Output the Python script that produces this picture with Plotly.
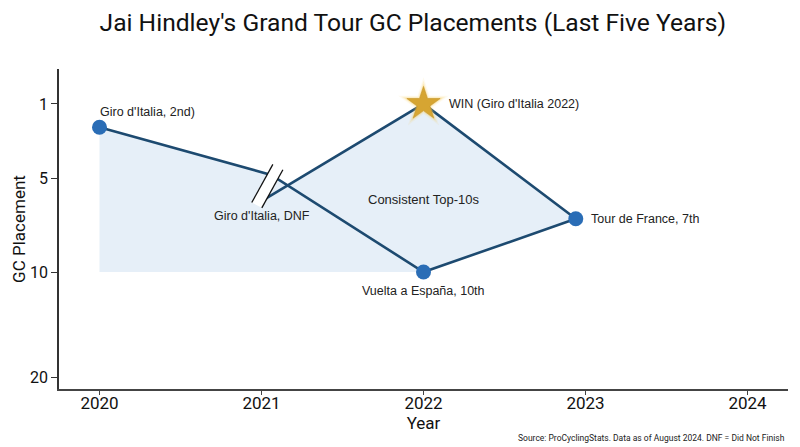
import numpy as np
import plotly.graph_objects as go

# ---------------- data ----------------
year_ticks = [2020, 2021, 2022, 2023, 2024]
year_labels = ["2020", "2021", "2022", "2023", "2024"]

# line A: Giro 2020 (2nd) -> 2021 break -> Vuelta 2022 (10th) -> Tour 2023 (7th)
years_a = [2020, 2021.06, 2022, 2022.94]
gc_a = [2.25, 4.8, 10, 7.15]
# line B: Giro 2021 (DNF) -> Giro 2022 (WIN) -> Tour 2023 (7th)
years_b = [2021, 2022, 2022.94]
gc_b = [6.2, 1, 7.15]

top10_line = 10
gc_ticks = [1, 5, 10, 15.64]
gc_labels = ["1", "5", "10", "20"]

label_giro20 = "Giro d'Italia, 2nd)"
label_dnf = "Giro d'Italia, DNF"
label_win = "WIN (Giro d'Italia 2022)"
label_vuelta = "Vuelta a España, 10th"
label_tour = "Tour de France, 7th"
label_band = "Consistent Top-10s"

LINE = "#1d4a70"
DOT = "#2a6db6"
FILL = "#e6eff8"
GOLD = "#d6a532"
ANN_FONT = "Liberation Sans, Arial, sans-serif"
MAIN_FONT = "Roboto, Liberation Sans, sans-serif"

# intersection of line A (2021->2022) with line B (2021->2022)
ax0, ay0, ax1, ay1 = years_a[1], gc_a[1], years_a[2], gc_a[2]
bx0, by0, bx1, by1 = years_b[0], gc_b[0], years_b[1], gc_b[1]
# solve A(x) = B(x)
ma = (ay1 - ay0) / (ax1 - ax0)
mb = (by1 - by0) / (bx1 - bx0)
ix = (by0 - ay0 + ma * ax0 - mb * bx0) / (ma - mb)
iy = ay0 + ma * (ix - ax0)

poly_x = [years_a[0], years_a[1], ix, years_b[1], years_b[2], years_a[2], years_a[0], years_a[0]]
poly_y = [gc_a[0], gc_a[1], iy, gc_b[1], gc_b[2], top10_line, top10_line, gc_a[0]]

fig = go.Figure()

fig.add_trace(go.Scatter(x=poly_x, y=poly_y, mode="lines", fill="toself",
                         fillcolor=FILL, line=dict(width=0), hoverinfo="skip",
                         showlegend=False))

fig.add_trace(go.Scatter(x=years_a, y=gc_a, mode="lines",
                         line=dict(color=LINE, width=2.6), showlegend=False))
fig.add_trace(go.Scatter(x=years_b, y=gc_b, mode="lines",
                         line=dict(color=LINE, width=2.6), showlegend=False))

# circle markers
fig.add_trace(go.Scatter(x=[years_a[0], years_a[2], years_a[3]],
                         y=[gc_a[0], gc_a[2], gc_a[3]], mode="markers",
                         marker=dict(color=DOT, size=15, line=dict(width=0)),
                         showlegend=False))

# star with glow
for sz, col in [(38, "rgba(250,205,90,0.10)"), (33, "rgba(250,205,90,0.18)"),
                (29, "rgba(245,195,80,0.30)")]:
    fig.add_trace(go.Scatter(x=[years_b[1]], y=[gc_b[1]], mode="markers",
                             marker=dict(symbol="star", size=sz, color=col, line=dict(width=0)),
                             showlegend=False, hoverinfo="skip"))
fig.add_trace(go.Scatter(x=[years_b[1]], y=[gc_b[1]], mode="markers",
                         marker=dict(symbol="star", size=25, color=GOLD,
                                     line=dict(width=0.6, color="#c4952a")),
                         showlegend=False))

# break marker "//"
cx = years_b[0] + 0.036
cy = (gc_a[1] + gc_b[0]) / 2 - 0.1
hx, hy = 0.065, 1.02
sx, sy = 0.031, 0.142
s1 = ((cx - sx - hx, cy - sy + hy), (cx - sx + hx, cy - sy - hy))
s2 = ((cx + sx - hx, cy + sy + hy), (cx + sx + hx, cy + sy - hy))
band = "M {},{} L {},{} L {},{} L {},{} Z".format(
    s1[0][0], s1[0][1], s1[1][0], s1[1][1], s2[1][0], s2[1][1], s2[0][0], s2[0][1])
shapes = [dict(type="path", path=band, xref="x", yref="y", fillcolor="white",
               line=dict(width=0), layer="above")]
for s in (s1, s2):
    shapes.append(dict(type="line", xref="x", yref="y", x0=s[0][0], y0=s[0][1],
                       x1=s[1][0], y1=s[1][1], line=dict(color="#111", width=1.3),
                       layer="above"))

af = dict(family=ANN_FONT, size=12.5, color="#222")
annotations = [
    dict(x=years_a[0], y=gc_a[0], text=label_giro20, showarrow=False, xanchor="left",
         yanchor="middle", xshift=-2, yshift=15, font=af),
    dict(x=years_b[0], y=gc_b[0], text=label_dnf, showarrow=False, xanchor="center",
         yanchor="middle", yshift=-15, font=af),
    dict(x=years_b[1], y=gc_b[1], text=label_win, showarrow=False, xanchor="left",
         yanchor="middle", xshift=23, font=af),
    dict(x=years_a[2], y=gc_a[2], text=label_vuelta, showarrow=False, xanchor="center",
         yanchor="middle", yshift=-19, font=af),
    dict(x=years_a[3], y=gc_a[3], text=label_tour, showarrow=False, xanchor="left",
         yanchor="middle", xshift=13, font=af),
    dict(x=years_b[1], y=(gc_a[2] + gc_b[1]) / 2, text=label_band, showarrow=False,
         xanchor="center", yanchor="middle", yshift=-11,
         font=dict(family=ANN_FONT, size=13, color="#222")),
    dict(xref="paper", yref="paper", x=1, y=0, xanchor="right", yanchor="middle",
         xshift=-1, yshift=-49, showarrow=False,
         text="Source: ProCyclingStats. Data as of August 2024. DNF = Did Not Finish",
         font=dict(family="Liberation Sans Narrow, Arial Narrow, Roboto, sans-serif", size=8.5,
                   color="#222")),
]

fig.update_layout(
    width=800, height=447,
    margin=dict(l=59, r=12, t=69, b=58),
    paper_bgcolor="white", plot_bgcolor="white",
    title=dict(text="Jai Hindley's Grand Tour GC Placements (Last Five Years)",
               x=0.516, xanchor="center", y=0.951, yanchor="middle",
               font=dict(family=MAIN_FONT, size=24.6, color="#111")),
    shapes=shapes, annotations=annotations, showlegend=False,
)
fig.update_xaxes(range=[2019.75, 2024.25], tickvals=year_ticks, ticktext=year_labels,
                 showline=True, linecolor="#444", linewidth=2, ticks="outside",
                 ticklen=4, tickcolor="#444", showgrid=False, zeroline=False,
                 ticklabelstandoff=-6,
                 tickfont=dict(family=MAIN_FONT, size=17, color="#111"),
                 title=dict(text="Year", font=dict(family=MAIN_FONT, size=17, color="#111"),
                            standoff=2))
fig.update_yaxes(range=[16.26, -0.87], tickvals=gc_ticks, ticktext=gc_labels,
                 showline=True, linecolor="#333", linewidth=1.5, ticks="outside",
                 ticklen=6, tickcolor="#333", showgrid=False, zeroline=False,
                 tickfont=dict(family=MAIN_FONT, size=16, color="#111"),
                 title=dict(text="GC Placement", font=dict(family=MAIN_FONT, size=17, color="#111"),
                            standoff=0))

fig.write_html("out.html", config={"displayModeBar": False},
               post_script="document.body.style.margin='0';document.body.style.overflow='hidden';")
